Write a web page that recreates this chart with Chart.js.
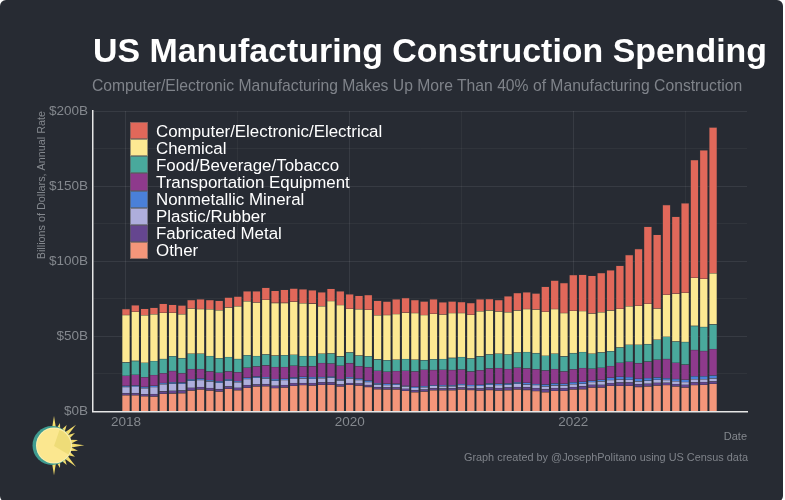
<!DOCTYPE html>
<html>
<head>
<meta charset="utf-8">
<script src="https://cdn.jsdelivr.net/npm/chart.js@4"></script>
<style>
  html, body { margin: 0; background: #fff; }
  #card { position: absolute; left: 0; top: 0; width: 783px; height: 502px; background: #272b33; border-radius: 6px; overflow: hidden; }
  #wrap { position: absolute; left: 0; top: 0; width: 785px; height: 500px; overflow: hidden; }
  #title { position: absolute; left: 93px; top: 30.5px; font-size: 33.9px; font-weight: bold; color: #fff; white-space: nowrap; }
  #subtitle { position: absolute; left: 92px; top: 76.5px; font-size: 15.7px; color: #7f838a; white-space: nowrap; }
  #caption { position: absolute; right: 37px; top: 451px; font-size: 10.9px; color: #7f838a; white-space: nowrap; }
  #legend { position: absolute; left: 130px; top: 122px; }
  .row { display: flex; align-items: center; height: 17.14px; }
  .swatch { width: 17.5px; height: 17.14px; margin-right: 8.5px; box-sizing: border-box; border: 0.5px solid rgba(90,90,90,.6); }
  .row span { position: relative; top: 1px; color: #fff; font-size: 16.9px; white-space: nowrap; }
  #sun { position: absolute; left: 0; top: 400px; }
</style>
</head>
<body>
<div id="wrap">
  <div id="card"></div>
  <canvas id="chart" width="785" height="500" style="position:absolute;left:0;top:0"></canvas>
  <div id="card-text" style="font-family:'Liberation Sans',Arial,sans-serif">
    <div id="title">US Manufacturing Construction Spending</div>
    <div id="subtitle">Computer/Electronic Manufacturing Makes Up More Than 40% of Manufacturing Construction</div>
    <div id="caption">Graph created by @JosephPolitano using US Census data</div>
    <div id="legend"></div>
  </div>
  <svg id="sun" width="100" height="100" viewBox="0 400 100 100"></svg>
</div>
<script>
  // months since Jan 2018
  const months = [];
  for (let m = 0; m < 64; m++) months.push(m);

  const other = [10.9,10.9,10.2,10,11.8,12,12.2,14,14.7,14,13.3,15.1,14.2,15.8,16.7,16.9,15.6,16,17.1,17.6,17.3,17.8,17.8,16.7,17.8,17.3,16.4,14.9,14.7,14.7,13.8,12.9,13.3,14.2,14.2,14.2,14.7,14.4,14,14.4,14,14.2,14.7,14.4,13.6,12.9,13.8,13.8,14.7,14.9,16,16,17.1,17.1,17.1,16.4,16.7,17.3,17.6,16.7,16,17.6,17.8,18.4];
  const fabricated = [1.3,1.3,1.3,1.6,1.6,1.8,1.8,1.8,1.6,1.6,1.6,1.6,1.6,1.8,1.3,1.3,1.6,1.6,1.8,1.3,1.6,1.6,1.6,1.3,1.1,1.3,1.3,1.3,1.3,1.3,1.3,1.3,1.3,1.3,1.1,1.3,1.3,1.3,1.3,1.6,1.6,1.8,1.6,1.8,2,2,1.8,1.8,1.6,2,1.8,1.8,1.8,2.2,2.2,1.8,1.8,1.8,1.6,1.6,1.8,1.8,1.8,1.6];
  const plastic = [4.2,4.4,4,4.7,4.7,4.7,4.4,4.7,4.7,4.4,4.2,3.8,3.6,4,4.4,3.8,3.3,3.3,2.9,3.1,2.9,2.7,3.1,2.7,3.1,2.4,2,1.8,1.6,1.8,1.6,1.6,1.6,1.6,1.6,1.3,1.6,1.3,1.8,1.8,2,1.8,2.2,1.8,2,1.8,1.8,1.8,1.8,1.6,1.8,2.2,2,2,1.8,1.8,2,2,1.8,1.8,1.8,2,1.8,2];
  const nonmetallic = [0.7,0.7,0.9,0.9,0.9,0.9,0.9,0.9,0.9,0.9,1.1,0.9,0.9,0.9,0.9,0.9,1.1,0.9,0.9,1.1,1.1,0.9,0.7,0.7,0.9,0.9,0.9,0.7,0.9,0.7,0.4,0.7,0.7,0.4,0.7,0.7,0.7,0.7,0.7,0.9,0.9,0.9,0.9,1.1,0.7,1.3,1.3,1.1,1.3,1.3,0.9,1.1,1.6,1.8,1.8,1.8,1.8,1.6,1.1,1.6,1.6,2,2,2];
  const transportation = [6.7,7.1,6.4,7.1,6.4,7.6,6.2,6.9,6.4,5.8,5.6,5.3,5.8,6.7,6.7,7.8,8,7.8,7.8,6.9,7.3,9.3,8.7,9.1,9.3,8.2,8.9,8.4,8,8.4,10,10.2,10.9,10.2,10.2,10.2,9.6,8.9,9.6,10,10.4,9.6,9.8,9.6,9.8,9.3,9.6,8.2,8.7,9.1,8,8,7.8,9.3,10.2,10.4,10.9,11.8,12.9,10.7,10,17.6,16.9,17.6];
  const food = [8.9,9.3,9.6,9.3,9.6,9.8,10,10.2,10.2,10.2,9.6,9.6,8.9,8.2,6.9,7.3,7.6,7.8,7.3,6.9,6.7,6.2,6.7,6.2,7.1,7.1,7.3,7.6,7.6,7.6,7.8,7.8,6.4,7.1,7.1,8,8.4,8.7,9.3,9.3,9.6,9.6,10,10.9,10.7,9.8,10.2,10,10.7,10.7,10,10.2,9.8,10.2,11.3,12.2,11.6,13.3,14.7,14.2,15.1,16,16,16.4];
  const chemical = [31.6,32.7,31.6,31.1,30.7,28.9,29.3,30,29.8,31.1,32,32.9,35.1,36,35.6,36.4,35.1,34.9,35.3,35.1,34.9,31.6,34.9,34.2,29.1,30.9,30.9,29.3,30.2,30.4,30.9,31.1,30,30.2,29.6,29.8,29.3,29.1,30,29.3,28,28.2,28,28.7,29.1,29.3,29.8,28.9,28.2,27.3,26.7,26.7,27.1,25.8,25.6,26,26.9,20.7,28,31.8,32.7,32,32,34];
  const computer = [4,4.4,4.4,4.4,6,5.3,5.8,5.8,6.4,6.2,6.4,6.7,6.4,6.7,7.6,8,8,8.7,8.7,9.3,8.9,9.3,8.2,9.1,9.6,8.9,9.8,9.8,8.9,9.8,9.8,8.7,9.1,9.8,8.2,7.8,7.3,7.8,8,7.6,7.8,10.7,11.6,11.1,10.7,16.7,18.9,20,23.8,24.2,25.1,26.2,26.9,28.7,34.2,37.8,51.3,49.1,59.8,51.3,59.6,78.4,85.6,97.1];

  const yearTicks = [0, 12, 24, 36, 48, 60];
  const yearLabels = ["2018", "", "2020", "", "2022", ""];
  const valueTicks = [0, 25, 50, 75, 100, 125, 150, 175, 200];
  const valueLabels = ["$0B", "", "$50B", "", "$100B", "", "$150B", "", "$200B"];

  const seriesNames = ["Computer/Electronic/Electrical", "Chemical", "Food/Beverage/Tobacco", "Transportation Equipment", "Nonmetallic Mineral", "Plastic/Rubber", "Fabricated Metal", "Other"];
  const seriesColors = ["#e1685a", "#fde992", "#49a99c", "#8e3a8c", "#4a80d9", "#aeaedc", "#65468f", "#f4967a"];
  const seriesValues = [computer, chemical, food, transportation, nonmetallic, plastic, fabricated, other];

  const muted = "#84888e";

  const datasets = seriesNames.map((name, i) => ({
    label: name,
    data: seriesValues[i].map((v, j) => ({ x: months[j], y: v })),
    backgroundColor: seriesColors[i],
    borderColor: "rgba(70,70,70,0.55)",
    borderWidth: 0.6,
    barThickness: 7.8,
  })).reverse(); // first legend entry sits on top of the stack

  new Chart(document.getElementById("chart"), {
    type: "bar",
    data: { datasets },
    options: {
      responsive: false,
      animation: false,
      parsing: { xAxisKey: "x", yAxisKey: "y" },
      layout: { padding: { left: 0, right: 38, top: 111, bottom: 0 } },
      plugins: { legend: { display: false }, tooltip: { enabled: false } },
      scales: {
        x: {
          type: "linear",
          stacked: true,
          offset: false,
          min: -3.54,
          max: 66.64,
          afterBuildTicks: (s) => { s.ticks = yearTicks.map(v => ({ value: v })); },
          afterFit: (s) => { s.height = 88.5; },
          border: { color: "#e6e6e6", width: 1.5 },
          grid: { offset: false, drawTicks: false, color: (c) => c.index % 2 ? "rgba(255,255,255,0.045)" : "rgba(255,255,255,0.08)" },
          ticks: { color: muted, font: { family: "Liberation Sans", size: 13.5 }, padding: 3, maxRotation: 0, autoSkip: false, callback: (v) => yearLabels[yearTicks.indexOf(v)] },
          title: { display: true, text: "Date", align: "end", color: muted, font: { family: "Liberation Sans", size: 11 }, padding: { top: 0, bottom: 56 } },
        },
        y: {
          stacked: true,
          min: 0,
          max: 200,
          afterBuildTicks: (s) => { s.ticks = valueTicks.map(v => ({ value: v })); },
          afterFit: (s) => { s.width = 93; },
          border: { color: "#e6e6e6", width: 1.5 },
          grid: { drawTicks: false, color: (c) => c.index % 2 ? "rgba(255,255,255,0.045)" : "rgba(255,255,255,0.08)" },
          ticks: { color: muted, font: { family: "Liberation Sans", size: 13.5 }, padding: 5, autoSkip: false, callback: (v) => valueLabels[valueTicks.indexOf(v)] },
          title: { display: true, text: "Billions of Dollars, Annual Rate", align: "end", color: muted, font: { family: "Liberation Sans", size: 10.8 }, padding: { top: 36, bottom: 0 } },
        },
      },
    },
  });

  // legend
  const legendBox = document.getElementById("legend");
  seriesNames.forEach((name, i) => {
    const row = document.createElement("div");
    row.className = "row";
    row.innerHTML = `<div class="swatch" style="background:${seriesColors[i]}"></div><span>${name}</span>`;
    legendBox.appendChild(row);
  });

  // sun logo
  const rays = [[54,416],[60,423],[66.7,425],[76,424.7],[75,433],[78,440],[84.3,445.3],[78,450.7],[75,456.7],[76,466.7],[66.7,465],[60,468],[54,475.3]];
  const cx = 54, cy = 445.5;
  let raysSvg = "";
  rays.forEach(([x, y]) => {
    const a = Math.atan2(y - cy, x - cx), w = 0.14, r = 16;
    const p1 = [cx + r * Math.cos(a - w), cy + r * Math.sin(a - w)];
    const p2 = [cx + r * Math.cos(a + w), cy + r * Math.sin(a + w)];
    raysSvg += `<polygon points="${p1} ${x},${y} ${p2}" fill="#f2dc6c"/>`;
  });
  document.getElementById("sun").innerHTML = raysSvg +
    `<circle cx="52" cy="445.5" r="19.5" fill="#3f9c90"/>` +
    `<circle cx="54" cy="445.5" r="18" fill="#fdf0b0"/>` +
    `<circle cx="54" cy="445.5" r="17" fill="#fbe78f"/>` +
    `<path d="M54 446 L59.5 430 A17 17 0 0 1 68.5 454.5 Z" fill="#eedc78"/>`;
</script>
</body>
</html>
